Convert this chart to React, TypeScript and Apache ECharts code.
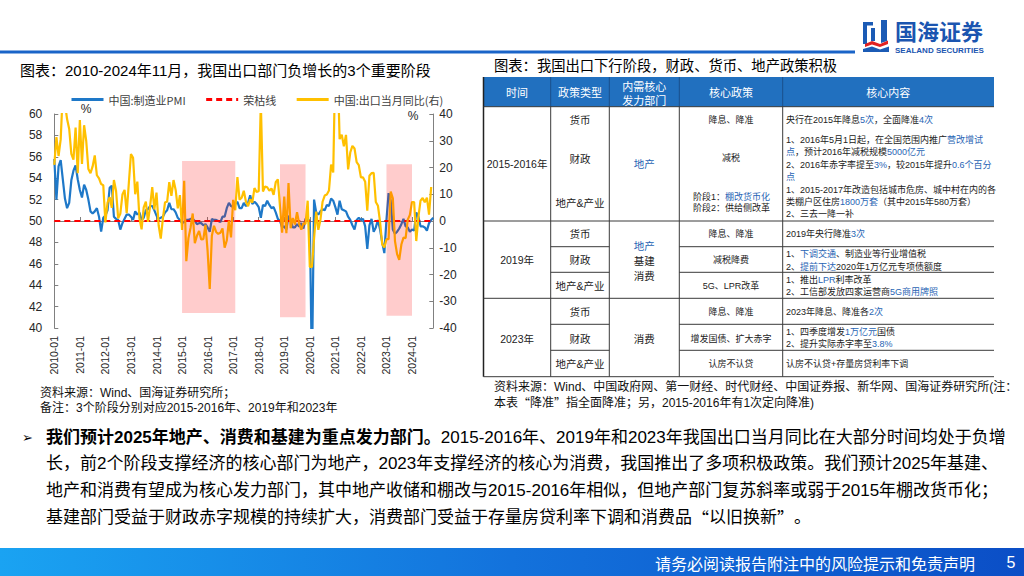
import React, { useEffect, useRef } from "react";
import * as echarts from "echarts";

// ---------- data ----------
const months: string[] = [];
for (let y = 2010; y <= 2024; y++) {
  for (let m = 1; m <= 12; m++) {
    if (y === 2024 && m > 11) break;
    months.push(`${y}-${m < 10 ? "0" + m : m}`);
  }
}

// 中国:制造业PMI (2010-01 .. 2024-11)
const pmi = [
  55.8, 52.0, 55.1, 55.7, 53.9, 52.1, 51.2, 51.7, 53.8, 54.7, 55.2, 53.9,
  52.9, 52.2, 53.4, 52.9, 52.0, 50.9, 50.7, 50.9, 51.2, 50.4, 49.0, 50.3,
  50.5, 51.0, 53.1, 53.3, 50.4, 50.2, 50.1, 49.2, 49.8, 50.2, 50.6, 50.6,
  50.4, 50.1, 50.9, 50.6, 50.8, 50.1, 50.3, 51.0, 51.1, 51.4, 51.4, 51.0,
  50.5, 50.2, 50.3, 50.4, 50.8, 51.0, 51.7, 51.1, 51.1, 50.8, 50.3, 50.1,
  49.8, 49.9, 50.1, 50.1, 50.2, 50.2, 50.0, 49.7, 49.8, 49.8, 49.6, 49.7,
  49.4, 49.0, 50.2, 50.1, 50.1, 50.0, 49.9, 50.4, 50.4, 51.2, 51.7, 51.4,
  51.3, 51.6, 51.8, 51.2, 51.2, 51.7, 51.4, 51.7, 52.4, 51.6, 51.8, 51.6,
  51.3, 50.3, 51.5, 51.4, 51.9, 51.5, 51.2, 51.3, 50.8, 50.2, 50.0, 49.4,
  49.5, 49.2, 50.5, 50.1, 49.4, 49.4, 49.7, 49.5, 49.8, 49.3, 50.2, 50.2,
  50.0, 35.7, 52.0, 50.8, 50.6, 50.9, 51.1, 51.0, 51.5, 51.4, 52.1, 51.9,
  51.3, 50.6, 51.9, 51.1, 51.0, 50.9, 50.4, 50.1, 49.6, 49.2, 50.1, 50.3,
  50.1, 50.2, 49.5, 47.4, 49.6, 50.2, 49.0, 49.4, 50.1, 49.2, 48.0, 47.0,
  50.1, 52.6, 51.9, 49.2, 48.8, 49.0, 49.3, 49.7, 50.2, 49.5, 49.4, 49.0,
  49.2, 49.1, 50.8, 50.4, 49.5, 49.5, 49.4, 49.1, 49.8, 50.1, 50.3,
];

// 中国:出口当月同比 (%) (2010-01 .. 2024-10)
const exportYoy: (number | null)[] = [
  21.0, 31.4, 24.3, 30.5, 48.5, 43.9, 38.1, 34.4, 25.1, 22.9, 34.9, 17.9,
  37.7, 21.3, 35.8, 29.9, 19.4, 17.9, 20.4, 24.5, 17.1, 15.9, 13.8, 13.4,
  -0.5, 6.9, 8.9, 4.9, 15.3, 11.3, 1.0, 2.7, 9.9, 11.6, 2.9, 14.1,
  25.0, 23.6, 10.0, 14.7, 1.0, -3.1, 5.1, 7.2, -0.3, 5.6, 12.7, 4.3,
  10.6, -1.6, -6.6, 0.9, 7.0, 7.2, 14.5, 9.4, 15.3, 11.6, 4.7, 9.7,
  -3.3, 15.0, -15.0, -6.4, -2.5, 2.8, -8.3, -5.5, -3.7, -6.9, -6.8, -1.4,
  -11.2, -25.4, -5.5, -1.8, -4.1, -4.8, -4.4, -2.8, -10.0, -7.3, 0.1, -6.1,
  7.9, 4.0, 16.4, 8.0, 8.7, 11.3, 7.2, 5.5, 8.1, 6.9, 12.3, 10.9,
  11.1, 44.5, 11.0, 12.9, 12.6, 11.3, 12.2, 9.8, 14.5, 15.6, 5.4, -4.4,
  9.1, -4.6, 14.2, -2.7, 1.1, -1.3, 3.3, -1.0, -3.2, -0.9, -1.1, 7.6,
  -17.2, -17.2, -6.6, 3.5, -3.3, 0.5, 7.2, 9.5, 9.9, 11.4, 21.1, 18.1,
  60.6, 60.6, 30.6, 32.3, 27.9, 32.2, 19.3, 25.6, 28.1, 27.1, 22.0, 20.9,
  16.3, 16.3, 14.7, 3.9, 16.9, 17.9, 18.0, 7.1, 5.7, -0.3, -8.7, -9.9,
  -6.8, -6.8, 11.0, 8.5, -7.5, -12.4, -14.5, -8.8, -6.2, -6.4, 0.5, 2.3,
  7.1, 7.1, -7.5, 1.5, 7.6, 8.6, 7.0, 8.7, 2.4, 12.7, null,
];

const threshold = 50;
const leftAxisRange = { min: 40, max: 60, interval: 2 };
const rightAxisRange = { min: -40, max: 40, interval: 10 };

const shadedPeriods = [
  { from: "2015-01", to: "2017-02", top: 55.6, bottom: 41.4 },
  { from: "2018-11", to: "2019-11", top: 55.3, bottom: 41.0 },
  { from: "2023-01", to: "2024-01", top: 55.3, bottom: 41.15 },
];

const seriesNames = ["中国:制造业PMI", "荣枯线", "中国:出口当月同比(右)"];

// ---------- styles ----------
const SANS = "'Liberation Sans', 'Noto Sans CJK SC', sans-serif";
const CJK = "'Noto Sans CJK SC', sans-serif";
const BLUE_LINE = "#1E78C8";
const YELLOW = "#FFC000";
const RED = "#FF0000";
const TBLUE = "#2864B4";
const HEADER = "#2170BF";
const GRID = "#3a3a3a";

function txt(x: number, y: number, text: string, o: any = {}) {
  const size = o.size || 12;
  const fam = o.family || SANS;
  const rich = {
    b: { fill: o.bfill || TBLUE, fontSize: size, fontFamily: fam, fontWeight: o.bweight || o.weight || "normal" },
    q: { fill: o.fill || "#000", fontSize: size, fontFamily: CJK, fontWeight: o.weight || "normal" },
    ...(o.rich || {}),
  };
  return {
    type: "text",
    x,
    y,
    silent: true,
    z: o.z || 20,
    style: {
      text,
      fill: o.fill || "#000",
      fontSize: size,
      fontFamily: fam,
      fontWeight: o.weight || "normal",
      align: o.align || "left",
      verticalAlign: "middle",
      rich,
    },
  };
}
function rect(x: number, y: number, w: number, h: number, fill: any, z = 5) {
  return { type: "rect", silent: true, z, shape: { x, y, width: w, height: h }, style: { fill } };
}
function hline(x1: number, x2: number, y: number, color = GRID, w = 1) {
  return { type: "line", silent: true, z: 8, shape: { x1, y1: y, x2, y2: y }, style: { stroke: color, lineWidth: w } };
}
function vline(x: number, y1: number, y2: number, color = GRID, w = 1) {
  return { type: "line", silent: true, z: 8, shape: { x1: x, y1, x2: x, y2 }, style: { stroke: color, lineWidth: w } };
}

function buildGraphics() {
  const g: any[] = [];
  // header line + logo
  g.push(rect(0, 50.5, 855, 3, "#1A64C8"));
  g.push({ type: "polygon", silent: true, z: 10, shape: { points: [[863, 22], [873, 22], [873, 25.5], [867, 25.5], [867, 44], [863, 44]] }, style: { fill: "#1B5BB5" } });
  g.push(rect(871, 28, 4, 13, "#1B5BB5", 10));
  g.push({ type: "polygon", silent: true, z: 10, shape: { points: [[881, 20], [887, 20], [887, 41], [881, 43]] }, style: { fill: "#1B5BB5" } });
  g.push({ type: "polygon", silent: true, z: 10, shape: { points: [[865, 44], [872, 41], [880, 44], [888, 40.5], [888, 44], [880, 47], [872, 44.5], [865, 47]] }, style: { fill: "#E02020" } });
  g.push({ type: "polygon", silent: true, z: 10, shape: { points: [[863, 49], [872, 46.5], [880, 49.5], [889, 46.5], [889, 52], [863, 52]] }, style: { fill: "#1B5BB5" } });
  g.push(txt(895, 29.5, "国海证券", { size: 22, weight: "bold", fill: "#1B55B0", family: CJK }));
  g.push(txt(895, 50.5, "SEALAND SECURITIES", { size: 8, weight: "bold", fill: "#1B55B0", family: "'Liberation Sans Narrow', 'Liberation Sans', sans-serif" }));

  // titles
  g.push(txt(20, 70, "图表：2010-2024年11月，我国出口部门负增长的3个重要阶段", { size: 15 }));
  g.push(txt(494, 66, "图表：我国出口下行阶段，财政、货币、地产政策积极", { size: 14.3 }));

  // chart unit labels
  g.push(txt(86, 109, "%", { size: 12, align: "center", fill: "#262626" }));
  g.push(txt(413, 116, "%", { size: 12, align: "center", fill: "#262626" }));

  // chart sources
  g.push(txt(40, 392.5, "资料来源：Wind、国海证券研究所；", { size: 12, fill: "#111" }));
  g.push(txt(40, 408, "备注：3个阶段分别对应2015-2016年、2019年和2023年", { size: 12, fill: "#111" }));

  // ---- table ----
  const L = 483.5, R = 994;
  const c1 = 550.7, c2 = 609.3, c3 = 679.3, c4 = 782.7;
  const top = 77, hb = 106.7, b1 = 221, b2 = 298.3, bot = 376.7;
  g.push(rect(L, top, R - L, hb - top, HEADER));
  [c1, c2, c3, c4].forEach((x) => g.push(vline(x, top, hb, "#1a4f8c", 1)));
  [c1, c2, c3, c4].forEach((x) => g.push(vline(x, hb, bot)));
  g.push(vline(L, top, bot, "#222", 1.5));
  g.push(hline(L, R, hb));
  g.push(hline(L, R, b1));
  g.push(hline(L, R, b2));
  g.push(hline(L, R, bot));
  [246.7, 272.3, 324.3, 350.3].forEach((y) => {
    g.push(hline(c1, c2, y));
    g.push(hline(c3, R, y));
  });
  const hw = { size: 11, fill: "#fff", align: "center", family: CJK };
  g.push(txt((L + c1) / 2, 92, "时间", hw));
  g.push(txt((c1 + c2) / 2, 92, "政策类型", hw));
  g.push(txt((c2 + c3) / 2, 85.5, "内需核心", hw));
  g.push(txt((c2 + c3) / 2, 99.5, "发力部门", hw));
  g.push(txt((c3 + c4) / 2, 92, "核心政策", hw));
  g.push(txt((c4 + R) / 2, 92, "核心内容", hw));

  const cc = (x: number, y: number, t: string, extra: any = {}) =>
    g.push(txt(x, y, t, { size: 10.5, align: "center", fill: "#222", ...extra }));
  const pc = (y: number, t: string) => g.push(txt((c3 + c4) / 2, y, t, { size: 9, align: "center", fill: "#222" }));
  const ct = (y: number, t: string) => g.push(txt(786, y, t, { size: 9, fill: "#222" }));
  const m0 = (L + c1) / 2, m1 = (c1 + c2) / 2, m2 = (c2 + c3) / 2;

  // block 2015-2016
  cc(m0, 164, "2015-2016年");
  cc(m1, 120, "货币");
  cc(m1, 159, "财政");
  cc(m1, 203, "地产&产业");
  cc(m2, 164, "地产", { fill: TBLUE });
  pc(120, "降息、降准");
  pc(158, "减税");
  g.push(txt(693, 196.7, "阶段1：{b|棚改货币化}", { size: 9, fill: "#222" }));
  g.push(txt(693, 208.3, "阶段2：供给侧改革", { size: 9, fill: "#222" }));
  ct(120, "央行在2015年降息{b|5次}，全面降准{b|4次}");
  ct(140, "1、2016年5月1日起，在全国范围内推广{b|营改增试}");
  ct(152.3, "{b|点}，预计2016年减税规模{b|5000亿元}");
  ct(164.5, "2、2016年赤字率提至{b|3%}，较2015年提升{b|0.6个百分}");
  ct(176.7, "{b|点}");
  ct(190, "1、2015-2017年改造包括城市危房、城中村在内的各");
  ct(201.7, "类棚户区住房{b|1800万套}（其中2015年580万套）");
  ct(213.5, "2、三去一降一补");

  // block 2019
  cc(m0, 260, "2019年");
  cc(m1, 234.3, "货币");
  cc(m1, 260, "财政");
  cc(m1, 285.7, "地产&产业");
  cc(m2, 245.7, "地产", { fill: TBLUE });
  cc(m2, 260.5, "基建");
  cc(m2, 276, "消费");
  pc(234.3, "降息、降准");
  pc(260, "减税降费");
  pc(285.7, "5G、LPR改革");
  ct(234.3, "2019年央行降准{b|3次}");
  ct(254, "1、{b|下调交通}、制造业等行业增值税");
  ct(266.7, "2、{b|提前下达}2020年1万亿元专项债额度");
  ct(279.7, "1、推出{b|LPR}利率改革");
  ct(292.3, "2、工信部发放四家运营商{b|5G商用牌照}");

  // block 2023
  cc(m0, 339, "2023年");
  cc(m1, 312.3, "货币");
  cc(m1, 339, "财政");
  cc(m1, 364, "地产&产业");
  cc(m2, 339, "消费");
  pc(312.3, "降息、降准");
  pc(338.5, "增发国债、扩大赤字");
  pc(364, "认房不认贷");
  ct(312.3, "2023年降息、降准各{b|2次}");
  ct(332.3, "1、四季度增发{b|1万亿元}国债");
  ct(344.3, "2、提升实际赤字率至{b|3.8%}");
  ct(364, "认房不认贷+存量房贷利率下调");

  // table sources
  g.push(txt(494, 387, "资料来源：Wind、中国政府网、第一财经、时代财经、中国证券报、新华网、国海证券研究所(注：", { size: 12, fill: "#111" }));
  g.push(txt(494, 402.5, "本表{q|“}降准{q|”}指全面降准；另，2015-2016年有1次定向降准)", { size: 12, fill: "#111" }));

  // paragraph
  const ps = 17;
  g.push(txt(22, 437, "➢", { size: 13, family: "'DejaVu Sans', sans-serif" }));
  g.push(
    txt(46, 437, "{bb|我们预计2025年地产、消费和基建为重点发力部门。}2015-2016年、2019年和2023年我国出口当月同比在大部分时间均处于负增", {
      size: ps,
      rich: { bb: { fill: "#000", fontSize: ps, fontFamily: SANS, fontWeight: "bold" } },
    })
  );
  g.push(txt(46, 463.5, "长，前2个阶段支撑经济的核心部门为地产，2023年支撑经济的核心为消费，我国推出了多项积极政策。我们预计2025年基建、", { size: ps }));
  g.push(txt(46, 490.5, "地产和消费有望成为核心发力部门，其中地产收储和棚改与2015-2016年相似，但地产部门复苏斜率或弱于2015年棚改货币化；", { size: ps }));
  g.push(txt(46, 517.5, "基建部门受益于财政赤字规模的持续扩大，消费部门受益于存量房贷利率下调和消费品{q|“}以旧换新{q|”}。", { size: ps }));

  // footer
  g.push(
    rect(0, 548, 1024, 28, {
      type: "linear",
      x: 0,
      y: 0,
      x2: 1,
      y2: 0,
      colorStops: [
        { offset: 0, color: "#1AA3F2" },
        { offset: 0.5, color: "#1372DC" },
        { offset: 1, color: "#0B4EC6" },
      ],
    })
  );
  g.push(txt(655, 562.5, "请务必阅读报告附注中的风险提示和免责声明", { size: 16, fill: "#fff", family: CJK }));
  g.push(txt(1011, 562.5, "5", { size: 16, fill: "#fff", align: "center" }));
  return g;
}

export default function App() {
  const ref = useRef<HTMLDivElement>(null);
  useEffect(() => {
    if (!ref.current) return;
    const chart = echarts.init(ref.current, undefined, { renderer: "svg" });
    const axisLabel = { color: "#262626", fontSize: 12, fontFamily: SANS };
    const option: any = {
      animation: false,
      backgroundColor: "#fff",
      legend: {
        data: seriesNames,
        left: 65,
        top: 89,
        itemWidth: 32,
        itemHeight: 14,
        itemGap: 19,
        itemStyle: { opacity: 0 },
        lineStyle: { width: 3 },
        textStyle: { fontSize: 11, color: "#404040", fontFamily: CJK },
      },
      grid: { left: 54.3, top: 114, right: 590.7, bottom: 248, containLabel: false, outerBoundsMode: "none" },
      xAxis: {
        type: "category",
        data: months,
        boundaryGap: false,
        axisLine: { lineStyle: { color: "#808080", width: 1 } },
        axisTick: { interval: 11, inside: true, length: 4, lineStyle: { color: "#808080" } },
        axisLabel: { interval: 11, rotate: 90, fontSize: 10.5, margin: 8, color: "#262626", fontFamily: SANS },
        splitLine: { show: false },
      },
      yAxis: [
        {
          type: "value",
          ...leftAxisRange,
          axisLine: { show: true, lineStyle: { color: "#808080" } },
          axisTick: { show: true, inside: true, length: 4, lineStyle: { color: "#808080" } },
          axisLabel: { ...axisLabel, margin: 12 },
          splitLine: { show: false },
        },
        {
          type: "value",
          position: "right",
          ...rightAxisRange,
          axisLine: { show: true, lineStyle: { color: "#808080" } },
          axisTick: { show: true, inside: true, length: 4, lineStyle: { color: "#808080" } },
          axisLabel: { ...axisLabel, margin: 6 },
          splitLine: { show: false },
        },
      ],
      series: [
        {
          name: seriesNames[0],
          type: "line",
          data: pmi,
          yAxisIndex: 0,
          symbol: "none",
          z: 2,
          lineStyle: { color: BLUE_LINE, width: 2.2 },
          itemStyle: { color: BLUE_LINE },
        },
        {
          name: seriesNames[1],
          type: "line",
          data: [],
          yAxisIndex: 0,
          symbol: "none",
          z: 3,
          lineStyle: { color: RED, width: 2, type: [6, 4] },
          itemStyle: { color: RED },
          markLine: {
            silent: true,
            z: 3,
            symbol: ["none", "none"],
            label: { show: false },
            lineStyle: { color: RED, width: 2, type: [6, 4] },
            data: [{ yAxis: threshold }],
          },
        },
        {
          name: seriesNames[2],
          type: "line",
          data: exportYoy,
          yAxisIndex: 1,
          symbol: "none",
          z: 4,
          lineStyle: { color: YELLOW, width: 2.2 },
          itemStyle: { color: YELLOW },
        },
        {
          name: "shade",
          type: "line",
          data: [],
          yAxisIndex: 0,
          symbol: "none",
          z: 10,
          markArea: {
            silent: true,
            z: 10,
            itemStyle: { color: "rgba(255,0,0,0.2)", opacity: 1 },
            data: shadedPeriods.map((p) => [
              { xAxis: p.from, yAxis: p.top },
              { xAxis: p.to, yAxis: p.bottom },
            ]),
          },
        },
      ],
      graphic: { elements: buildGraphics() },
    };
    chart.setOption(option);
    return () => chart.dispose();
  }, []);
  return (
    <div
      ref={ref}
      style={{ position: "fixed", left: 0, top: 0, width: 1024, height: 576, background: "#fff" }}
    />
  );
}
